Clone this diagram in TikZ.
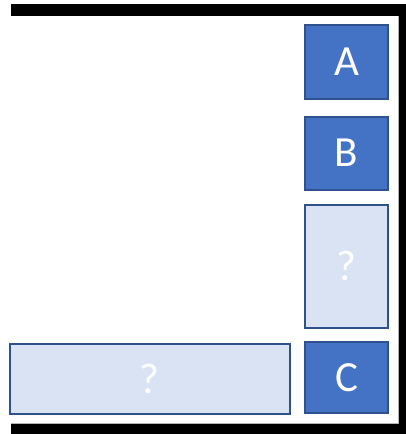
\documentclass[tikz,border=0pt]{standalone}
\usepackage{fontspec}
\setmainfont{Carlito}
\definecolor{dark}{HTML}{4472C4}
\definecolor{light}{HTML}{DAE3F3}
\definecolor{edge}{HTML}{2F528F}
\tikzset{
  darkbox/.style={draw=edge, line width=2pt, fill=dark, text=white, inner sep=0pt, font=\fontsize{43}{43}\selectfont},
  lightbox/.style={draw=edge, line width=2pt, fill=light, text=white, inner sep=0pt, font=\fontsize{43}{43}\selectfont},
}
\begin{document}
\begin{tikzpicture}[x=1pt,y=-1pt]
\useasboundingbox (0,0) rectangle (406,434);
% frame
\fill[black] (11,4) rectangle (406,16);
\fill[black] (399,4) rectangle (406,434);
\fill[black] (11,424) rectangle (406,434);
\draw[gray!60, line width=0.6pt] (398,16) -- (398,423.5) -- (11,423.5);
% boxes
\node[darkbox, minimum width=83pt, minimum height=74pt] (A) at (346.5,62) {A};
\node[darkbox, minimum width=83pt, minimum height=73pt] (B) at (346.5,153) {B};
\node[lightbox, minimum width=83pt, minimum height=123pt] (Q1) at (346.5,266) {?};
\node[darkbox, minimum width=83pt, minimum height=71pt] (C) at (346.5,377.5) {C};
\node[lightbox, minimum width=280pt, minimum height=70pt] (Q2) at (149.5,378.5) {?};
\end{tikzpicture}
\end{document}
